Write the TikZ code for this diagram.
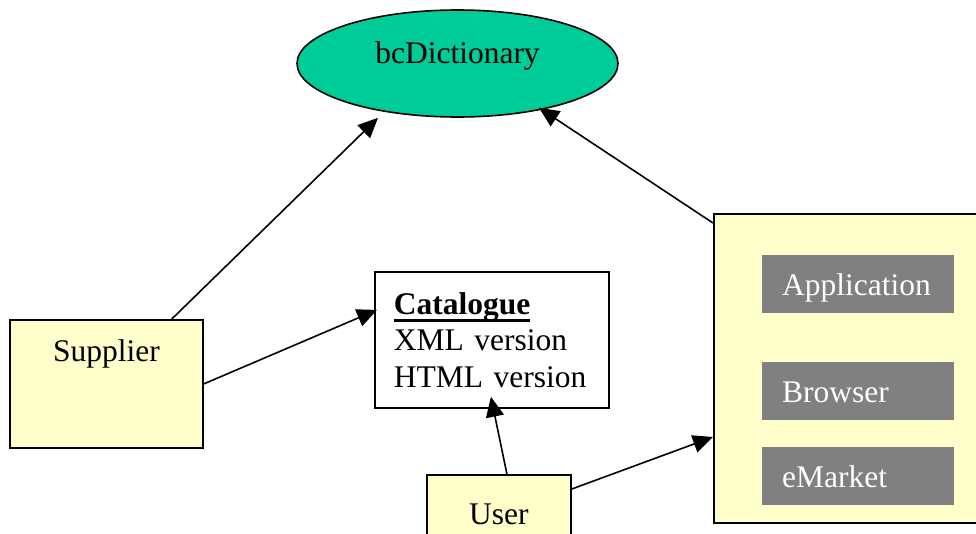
\documentclass[tikz,border=0pt]{standalone}
\usepackage{fontspec}
\setmainfont{Liberation Serif}
\usetikzlibrary{shapes.geometric,arrows.meta}

\definecolor{dictgreen}{RGB}{0,204,153}
\definecolor{paleyellow}{RGB}{255,255,204}
\definecolor{modgray}{RGB}{128,128,128}

% thick underline set below the descenders
\newcommand{\heavyul}[1]{{\setbox0\hbox{#1}\rlap{\rule[-8pt]{\wd0}{3pt}}\box0}}

\begin{document}
\begin{tikzpicture}[x=1pt,y=-1pt,
  every node/.style={font=\fontsize{31.5}{36.5}\selectfont, inner sep=0pt},
  conn/.style={line width=1.6pt, -{Triangle[length=20pt,width=18pt]}},
  dictnode/.style={ellipse, draw, line width=1.6pt, fill=dictgreen,
    minimum width=321pt, minimum height=107pt, text height=22pt, text depth=22pt},
  actorbox/.style={rectangle, draw, line width=1.8pt, fill=paleyellow},
  catbox/.style={rectangle, draw, line width=1.8pt, fill=white,
    minimum width=234pt, minimum height=136pt, align=left,
    text width=196pt, inner xsep=19pt},
  toolbox/.style={rectangle, fill=modgray, text=white, minimum width=192pt,
    text width=152pt, align=left, inner xsep=20pt, inner ysep=0pt,
    text height=40pt, text depth=18pt}
]
\useasboundingbox (0,0) rectangle (976,533);
\clip (0,0) rectangle (976,533);

% dictionary
\node[dictnode] (dict) at (457.5,63.5) {bcDictionary};

% actors and catalogue
\node[actorbox, anchor=north west, minimum width=193pt,
      text height=42pt, text depth=86pt] (sup) at (9,319) {Supplier};
\node[catbox, anchor=north west] (cat) at (374,271)
  {\textbf{\heavyul{Catalogue}}\\XML version\\HTML version};
\node[actorbox, anchor=north west, minimum width=144pt,
      text height=50pt, text depth=40pt] (user) at (426,474) {User};

% client side
\node[actorbox, anchor=north west, minimum width=290pt, minimum height=309pt]
  (client) at (713,213) {};
\node[toolbox, anchor=north west] (app) at (762,255) {Application};
\node[toolbox, anchor=north west] (brw) at (762,362) {Browser};
\node[toolbox, anchor=north west] (emk) at (762,447) {eMarket};

% connectors
\draw[conn] ([xshift=-32pt]sup.north east) -- ([xshift=-79.5pt]dict.south);
\draw[conn] (sup.east) -- ([xshift=3pt,yshift=30pt]cat.west);
\draw[conn] ([xshift=8pt]user.north) -- ([xshift=-1pt,yshift=12pt]cat.south);
\draw[conn] ([yshift=-15pt]user.north east) -- ([yshift=-224pt]client.north west);
\draw[conn] ([yshift=-10pt]client.north west) -- ([xshift=81.5pt,yshift=10pt]dict.south);
\end{tikzpicture}
\end{document}
